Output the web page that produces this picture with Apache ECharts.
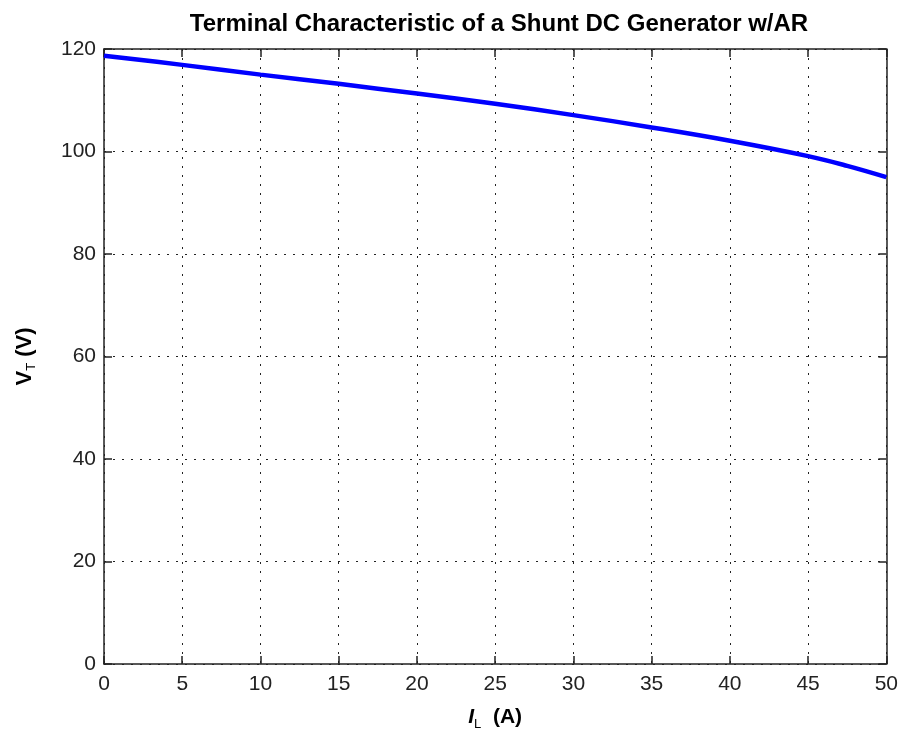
<!DOCTYPE html>
<html>
<head>
<meta charset="utf-8">
<title>Terminal Characteristic</title>
<script src="https://cdn.jsdelivr.net/npm/echarts@6/dist/echarts.min.js"></script>
<style>
  html, body { margin: 0; padding: 0; background: #fff; }
  #chart { width: 901px; height: 736px; }
</style>
</head>
<body>
<div id="chart"></div>
<script>
// load current I_L (A) and terminal voltage V_T (V)
var loadCurrent = [0, 5, 10, 15, 20, 25, 30, 35, 40, 45, 47.5, 50];
var terminalVoltage = [118.7, 116.9, 115.0, 113.2, 111.3, 109.3, 107.1, 104.7, 102.1, 99.1, 97.2, 95.0];
var xTicks = { min: 0, max: 50, interval: 5 };
var yTicks = { min: 0, max: 120, interval: 20 };

var chart = echarts.init(document.getElementById('chart'));

var font = 'Liberation Sans, Arial, Helvetica, sans-serif';
var axisColor = '#222';
var grid_dots = { color: '#222', width: 1, type: [2, 7] };

var pts = loadCurrent.map(function (x, i) { return [x, terminalVoltage[i]]; });

function frameAxis(pos, ticks, showLabel, showGrid) {
    return {
        type: 'value',
        position: pos,
        min: ticks.min,
        max: ticks.max,
        interval: ticks.interval,
        axisLine: { show: true, onZero: false, lineStyle: { color: axisColor, width: 1.5 } },
        axisTick: { show: true, inside: true, length: 8, lineStyle: { color: axisColor, width: 1.5 } },
        axisLabel: { show: showLabel, color: axisColor, fontFamily: font, fontSize: 21, margin: 8 },
        splitLine: { show: showGrid, lineStyle: grid_dots }
    };
}

var xBottom = frameAxis('bottom', xTicks, true, true);
xBottom.axisLabel.margin = 10;
xBottom.name = '{i|I}{s|L}{b|  (A)}';
xBottom.nameLocation = 'middle';
xBottom.nameGap = 40;
xBottom.nameTextStyle = {
    rich: {
        i: { fontFamily: font, fontSize: 21, fontWeight: 'bold', fontStyle: 'italic', color: '#000' },
        s: { fontFamily: font, fontSize: 13, color: '#000', padding: [14, 0, 0, 0] },
        b: { fontFamily: font, fontSize: 21, fontWeight: 'bold', color: '#000' }
    }
};

var yLeft = frameAxis('left', yTicks, true, true);
yLeft.name = '{b|V}{s|T}{b| (V)}';
yLeft.nameLocation = 'middle';
yLeft.nameGap = 66;
yLeft.nameTextStyle = {
    rich: {
        s: { fontFamily: font, fontSize: 13, color: '#000', padding: [14, 0, 0, 0] },
        b: { fontFamily: font, fontSize: 22, fontWeight: 'bold', color: '#000' }
    }
};

var option = {
    backgroundColor: '#fff',
    animation: false,
    title: {
        text: 'Terminal Characteristic of a Shunt DC Generator w/AR',
        left: 494,
        textAlign: 'center',
        top: 7,
        textStyle: { fontFamily: font, fontSize: 24, fontWeight: 'bold', color: '#000' }
    },
    grid: { left: 104, right: 13, top: 49, bottom: 70 },
    xAxis: [xBottom, frameAxis('top', xTicks, false, false)],
    yAxis: [yLeft, frameAxis('right', yTicks, false, false)],
    series: [{
        type: 'line',
        data: pts,
        smooth: 0.4,
        symbol: 'none',
        lineStyle: { color: '#0000ff', width: 4.5 }
    }]
};

chart.setOption(option);
</script>
</body>
</html>
